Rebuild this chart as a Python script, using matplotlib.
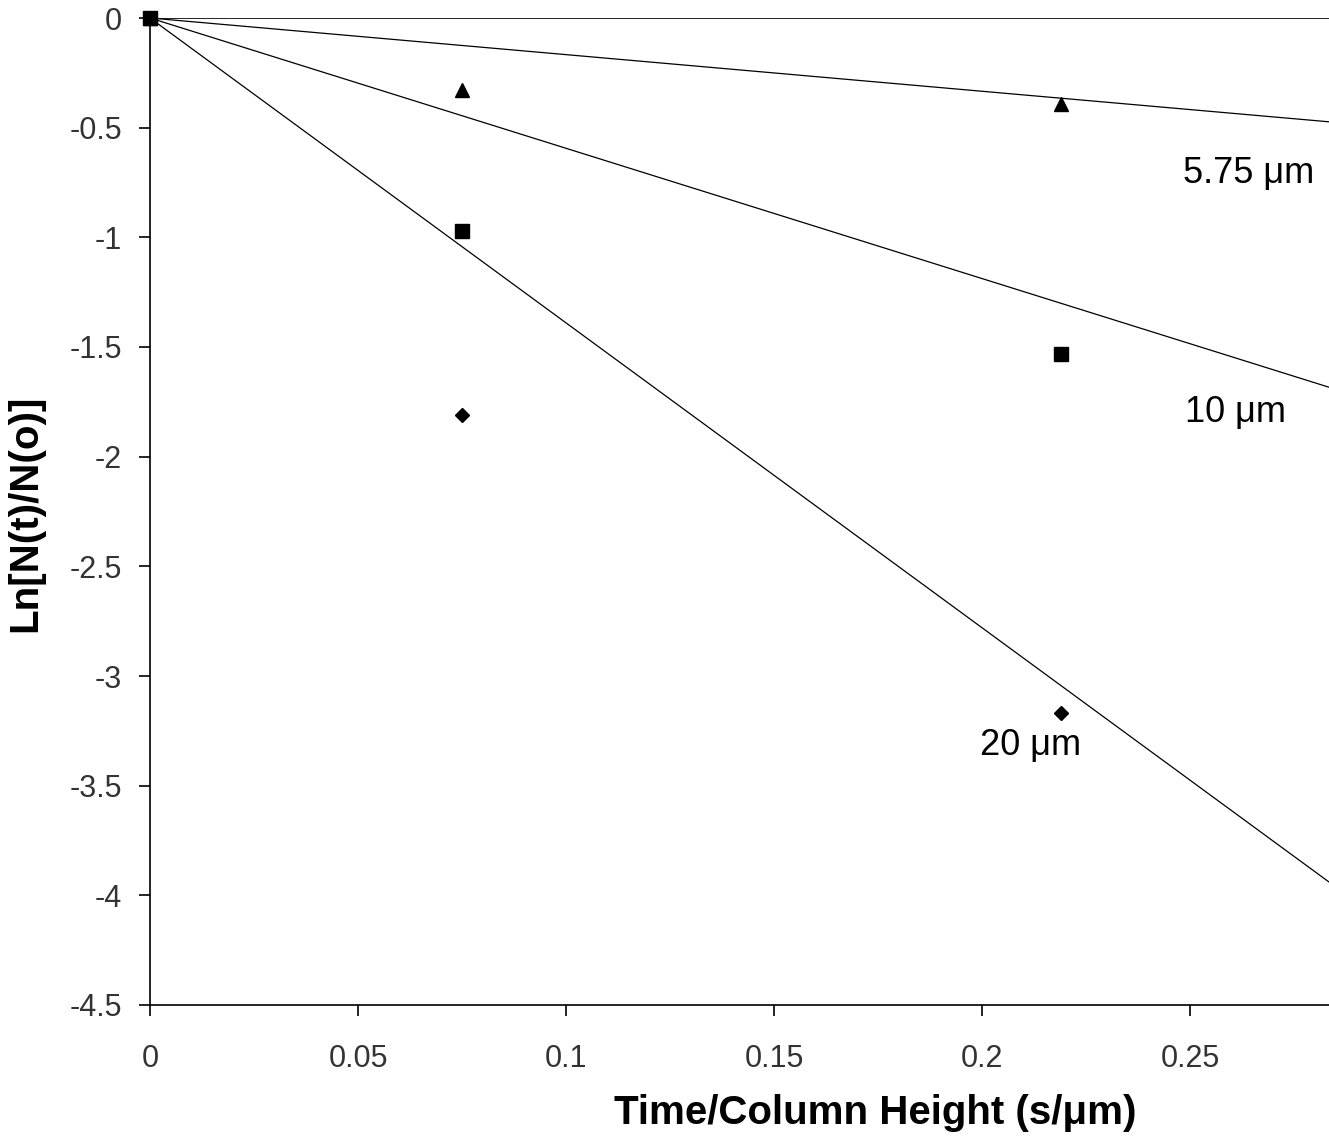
import matplotlib
matplotlib.use("Agg")
import matplotlib.pyplot as plt
import numpy as np

plt.rcParams['font.family'] = ['Liberation Sans', 'DejaVu Sans']

# data
x_pts = [0.0, 0.075, 0.219]
y_575 = [0.0, -0.33, -0.39]
y_10 = [0.0, -0.97, -1.53]
y_20 = [0.0, -1.81, -3.17]
slopes = {"5.75": -1.67, "10": -5.94, "20": -13.9}
labels = ["5.75 \u03bcm", "10 \u03bcm", "20 \u03bcm"]
label_pos = [(0.2483, -0.707), (0.2488, -1.797), (0.1995, -3.315)]
xticks = [0, 0.05, 0.1, 0.15, 0.2, 0.25]
yticks = [0, -0.5, -1, -1.5, -2, -2.5, -3, -3.5, -4, -4.5]
xmax = 0.2834

fig = plt.figure(figsize=(13.29, 11.42), dpi=100)
ax = fig.add_axes([150/1329, 1-1005/1142, 1-150/1329, (1005-18)/1142])

xl = np.array([0.0, xmax])
for key in ["5.75", "10", "20"]:
    ax.plot(xl, slopes[key]*xl, color='black', lw=0.9, zorder=2)

ax.plot(x_pts, y_575, linestyle='none', marker='^', ms=10, color='black', zorder=3, clip_on=False)
ax.plot(x_pts, y_10, linestyle='none', marker='s', ms=9.5, color='black', zorder=3, clip_on=False)
ax.plot(x_pts, y_20, linestyle='none', marker='D', ms=7.5, color='black', zorder=3, clip_on=False)

ax.axhline(0, color='black', lw=1.2, zorder=1)

for t, (lx, ly) in zip(labels, label_pos):
    ax.text(lx, ly, t, fontsize=26, ha='left', va='center', color='black')

ax.set_xlim(0, xmax)
ax.set_ylim(-4.5, 0)
ax.set_xticks(xticks)
ax.set_xticklabels([f"{v:g}" for v in xticks])
ax.set_yticks(yticks)
ax.set_yticklabels([f"{v:g}" for v in yticks])
ax.tick_params(direction='out', length=8, width=1.2, labelsize=22, colors='black', labelcolor='#333333')
ax.tick_params(axis='x', pad=20)
ax.tick_params(axis='y', pad=12)
for s in ['top', 'right']:
    ax.spines[s].set_visible(False)
for s in ['left', 'bottom']:
    ax.spines[s].set_linewidth(1.2)

ax.set_xlabel("Time/Column Height (s/\u03bcm)", fontsize=29, fontweight='bold', va='center')
ax.set_ylabel("Ln[N(t)/N(o)]", fontsize=29, fontweight='bold', va='center')
ax.xaxis.set_label_coords((875-150)/(1329-150), ((1142-1113)/1142 - (1-1005/1142)) / ((1005-18)/1142))
ax.yaxis.set_label_coords((25-150)/(1329-150), ((1142-513)/1142 - (1-1005/1142)) / ((1005-18)/1142))

fig.savefig("out.png", dpi=100)
